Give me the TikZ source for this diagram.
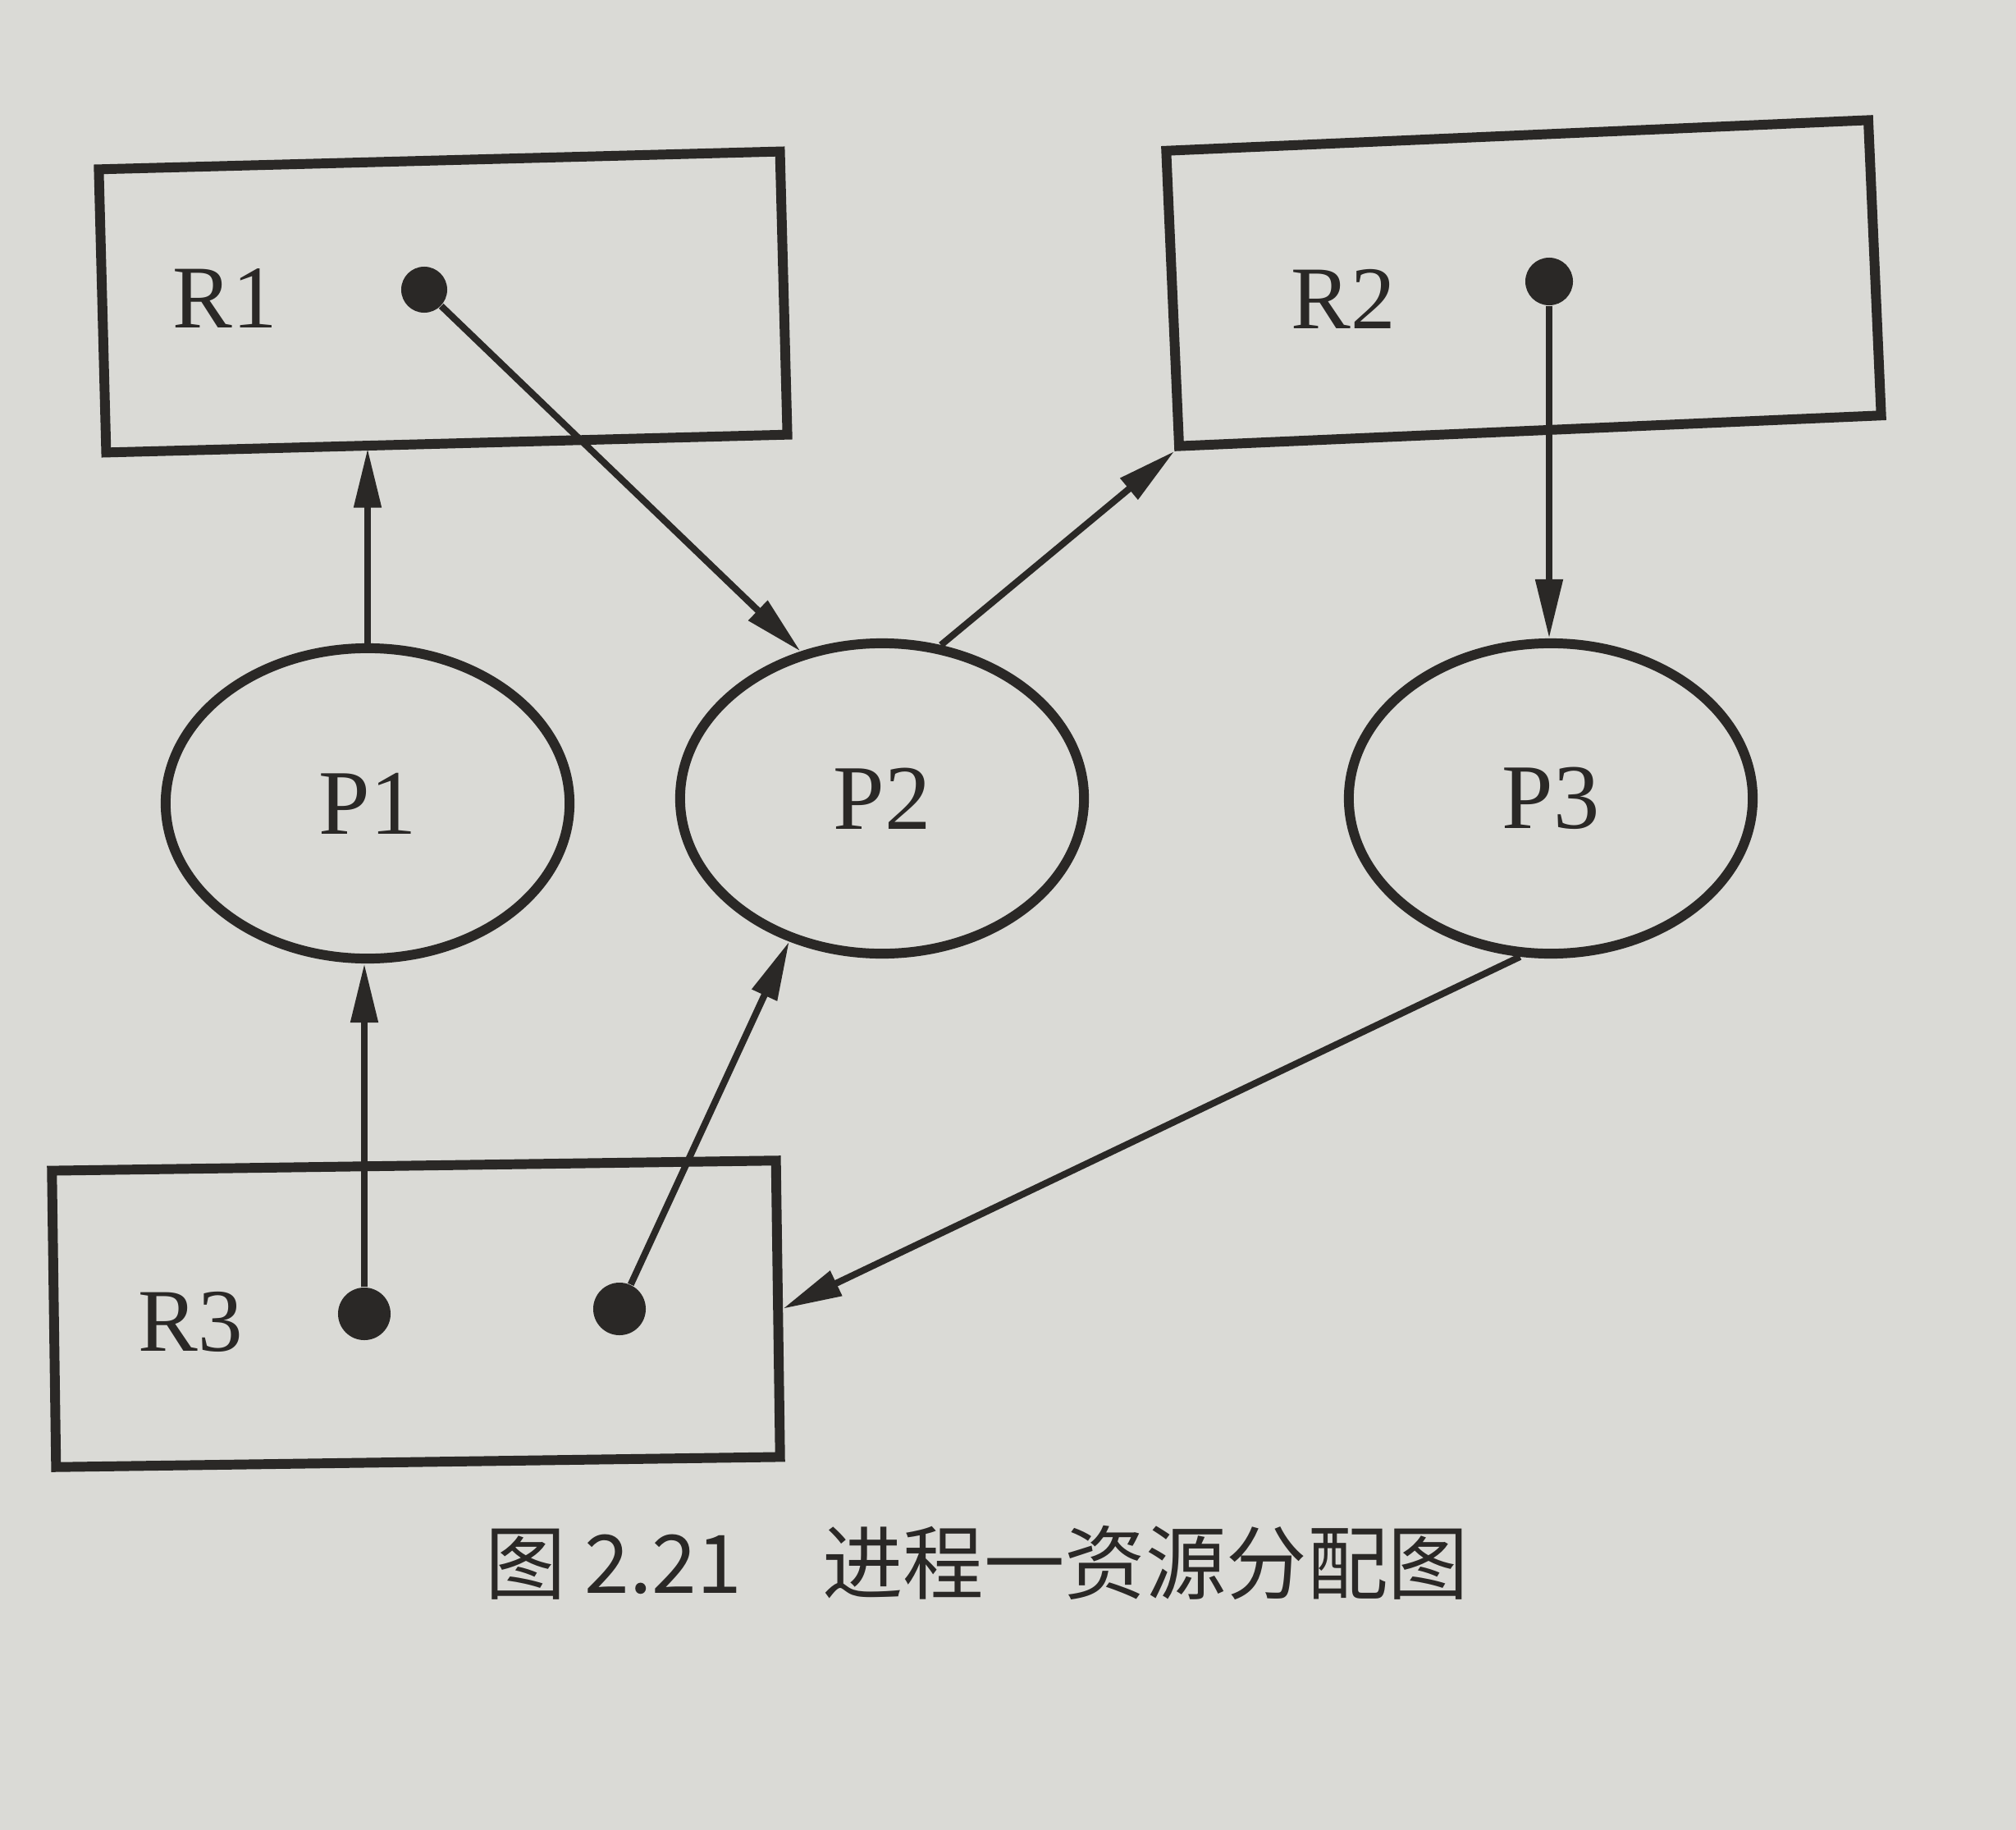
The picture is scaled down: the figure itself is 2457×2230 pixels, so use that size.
\documentclass[tikz,border=0pt]{standalone}
\usepackage{fontspec}
\setmainfont{Liberation Serif}
\newfontfamily\cjk{Noto Sans CJK SC}
\usetikzlibrary{arrows.meta,shapes.geometric}
\definecolor{paper}{RGB}{218,218,214}
\definecolor{ink}{RGB}{42,40,38}
\begin{document}
\begin{tikzpicture}[x=0.01cm,y=-0.01cm,
  box/.style={draw=ink,line width=3.4pt,rectangle,inner sep=0pt},
  proc/.style={draw=ink,line width=3.4pt,ellipse,inner sep=0pt,minimum width=4.92cm,minimum height=3.78cm,text=ink,font=\fontsize{32}{34}\selectfont},
  rdot/.style={circle,fill=ink,inner sep=0pt,minimum size=#1},
  lbl/.style={text=ink,font=\fontsize{31}{34}\selectfont},
  conn/.style={draw=ink,line width=2.3pt,-{Triangle[length=0.72cm,width=0.32cm]}}]
\fill[paper] (0,0) rectangle (2457,2230);
\useasboundingbox (0,0) rectangle (2457,2230);
% resource boxes
\node[box,minimum width=8.3cm,minimum height=3.45cm,rotate=1.5] (R1) at (540,368) {};
\node[box,minimum width=8.56cm,minimum height=3.6cm,rotate=2.5] (R2) at (1857,345) {};
\node[box,minimum width=8.82cm,minimum height=3.61cm,rotate=0.8] (R3) at (507,1601) {};
\node[lbl] (R1l) at (274,364) {R1};
\node[lbl] (R2l) at (1637,364) {R2};
\node[lbl] (R3l) at (232,1611) {R3};
% resource instances
\node[rdot=0.56cm] (d1) at (517,353) {};
\node[rdot=0.58cm] (d2) at (1888,343) {};
\node[rdot=0.64cm] (d3a) at (444,1601) {};
\node[rdot=0.64cm] (d3b) at (755,1595) {};
% processes
\node[proc] (P1) at (448,979) {P1};
\node[proc] (P2) at (1075,973) {P2};
\node[proc] (P3) at (1890,973) {P3};
% edges
\draw[conn] (d1) -- (P2.119);
\draw[conn] (P1.north) -- (P1.north |- R1.south);
\draw[conn] (P2.69) -- (R2.south west);
\draw[conn] (d2) -- (d2 |- P3.north);
\draw[conn] (P3.259) -- (R3.east);
\draw[conn] (d3a) -- (d3a |- P1.south);
\draw[conn] (d3b) -- (P2.237);
% caption
\node[text=ink,font=\cjk\fontsize{28}{30}\selectfont] (cap) at (1191,1904) {图 2.21\quad 进程一资源分配图};
\end{tikzpicture}
\end{document}
